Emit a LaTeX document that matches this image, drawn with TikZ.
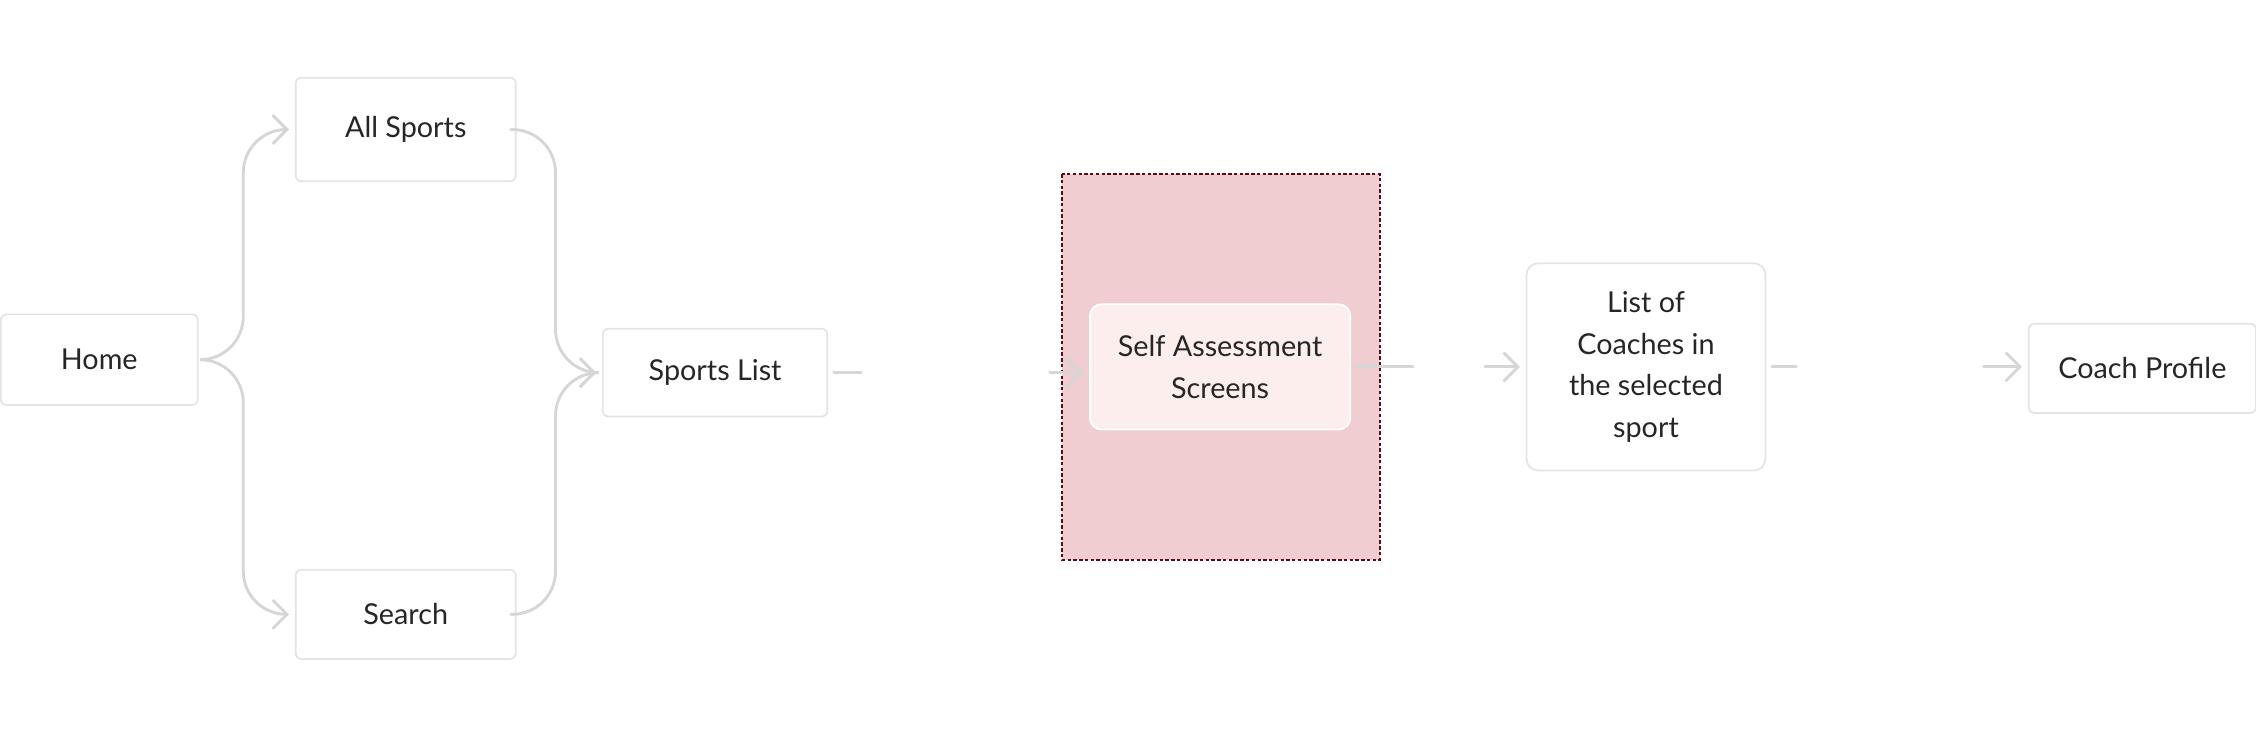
\documentclass[tikz,border=0pt]{standalone}
\usepackage{fontspec}
\setmainfont{Lato}
\usetikzlibrary{arrows.meta}
\definecolor{txtgray}{HTML}{262626}
\definecolor{boxline}{HTML}{E4E4E4}
\definecolor{linkgray}{HTML}{D6D6D6}
\definecolor{groupfill}{HTML}{EFCDD1}
\definecolor{groupline}{HTML}{5A0A14}
\definecolor{selffill}{HTML}{FDEEEE}
\tikzset{
  screen/.style={draw=boxline,line width=0.6pt,rounded corners=2pt,fill=white,
    text=txtgray,align=center,font=\fontsize{10}{14.5}\selectfont,inner sep=0pt},
  link/.style={draw=linkgray,line width=1pt,line cap=round,
    -{Straight Barb[length=5pt,width=10pt,line width=1pt]},shorten <=2pt,shorten >=2pt},
}
\begin{document}
\begin{tikzpicture}[x=0.5pt,y=0.5pt]
\useasboundingbox (0,0) rectangle (1568,-518);
% group
\draw[groupline,fill=groupfill,line width=0.6pt,dash pattern=on 1.2pt off 0.8pt]
  (738,-121) rectangle (959,-389);
% screens
\node[screen,minimum width=68.5pt,minimum height=31.5pt] (home) at (69,-250) {Home};
\node[screen,minimum width=76.5pt,minimum height=36pt] (allsp) at (282,-90) {All Sports};
\node[screen,minimum width=76.5pt,minimum height=31pt] (search) at (282,-427) {Search};
\node[screen,minimum width=78pt,minimum height=30.5pt] (splist) at (497,-259) {Sports List};
\node[screen,draw=white,fill=selffill,rounded corners=4pt,minimum width=90.5pt,minimum height=43.5pt]
  (selfas) at (848,-255) {Self Assessment\\Screens};
\node[screen,rounded corners=4pt,minimum width=83pt,minimum height=72pt]
  (coaches) at (1144,-255) {List of\\Coaches in\\the selected\\sport};
\node[screen,minimum width=79pt,minimum height=31pt] (profile) at (1489,-256) {Coach Profile};
% links
\draw[link,rounded corners=15pt] (home.east) -- ++(31,0) |- (allsp.west);
\draw[link,rounded corners=15pt] (home.east) -- ++(31,0) |- (search.west);
\draw[link,rounded corners=15pt] (allsp.east) -- ++(27,0) |- (splist.west);
\draw[link,rounded corners=15pt] (search.east) -- ++(27,0) |- (splist.west);
\draw[link,dash pattern=on 9.5pt off 65.5pt on 20pt off 100pt] (splist.east) -- (selfas.west |- splist.east);
\draw[link,dash pattern=on 19.5pt off 25pt on 20pt off 100pt] (selfas.east) -- (coaches.west);
\draw[link,dash pattern=on 8.5pt off 65pt on 20pt off 100pt] (coaches.east) -- (profile.west |- coaches.east);
\end{tikzpicture}
\end{document}
